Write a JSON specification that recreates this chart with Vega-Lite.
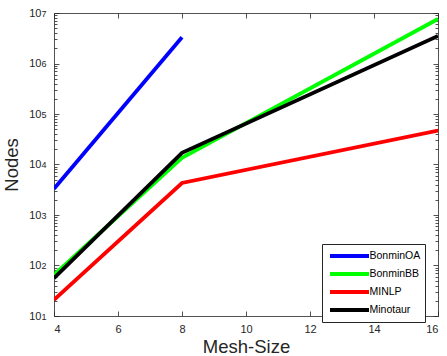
{
  "$schema": "https://vega.github.io/schema/vega-lite/v6.json",
  "autosize": "none",
  "padding": {"left": 54, "top": 13, "right": 9, "bottom": 40},
  "width": 384,
  "height": 303,
  "background": "white",
  "data": {"values": [
    {"solver": "BonminOA", "mesh": 4, "nodes": 3300},
    {"solver": "BonminOA", "mesh": 8, "nodes": 3300000},
    {"solver": "BonminBB", "mesh": 4, "nodes": 65},
    {"solver": "BonminBB", "mesh": 8, "nodes": 13500},
    {"solver": "BonminBB", "mesh": 16, "nodes": 7600000},
    {"solver": "MINLP", "mesh": 4, "nodes": 21},
    {"solver": "MINLP", "mesh": 8, "nodes": 4300},
    {"solver": "MINLP", "mesh": 16, "nodes": 47000},
    {"solver": "Minotaur", "mesh": 4, "nodes": 56},
    {"solver": "Minotaur", "mesh": 8, "nodes": 17000},
    {"solver": "Minotaur", "mesh": 16, "nodes": 3500000}
  ]},
  "layer": [
    {
      "mark": {"type": "line", "strokeWidth": 3.8, "clip": true},
      "encoding": {
        "x": {"field": "mesh", "type": "quantitative",
          "scale": {"domain": [4, 16], "nice": false, "zero": false},
          "axis": {"orient": "bottom", "values": [4, 6, 8, 10, 12, 14, 16], "title": "Mesh-Size",
            "tickSize": -5, "labelPadding": 12, "titleFontSize": 18.5, "titlePadding": 3, "titleFontWeight": "normal"}},
        "y": {"field": "nodes", "type": "quantitative",
          "scale": {"type": "log", "domain": [10, 10000000], "nice": false},
          "axis": {"orient": "left", "values": [10, 100, 1000, 10000, 100000, 1000000, 10000000], "title": "Nodes",
            "tickSize": -5, "labelPadding": 18, "labelDy": 2, "labelExpr": "'10'",
            "titleFontSize": 18.5, "titlePadding": 7, "titleFontWeight": "normal"}},
        "color": {"field": "solver", "type": "nominal",
          "scale": {"domain": ["BonminOA", "BonminBB", "MINLP", "Minotaur"], "range": ["#0000ff", "#00ff00", "#ff0000", "#000000"]},
          "legend": {"title": null, "orient": "none", "legendX": 268, "legendY": 231,
            "symbolType": "M-3.25,0L3.25,0", "symbolSize": 144, "symbolStrokeWidth": 4, "symbolOffset": 15.5,
            "strokeColor": "#262626", "fillColor": "white", "padding": 4, "cornerRadius": 0,
            "labelFontSize": 10.5, "labelOffset": 12, "rowPadding": 2, "labelColor": "#000000"}}
      }
    },
    {
      "mark": {"type": "point", "opacity": 0, "size": 0},
      "encoding": {
        "x": {"field": "mesh", "type": "quantitative", "axis": null},
        "y": {"field": "nodes", "type": "quantitative",
          "axis": {"orient": "left", "values": [10, 100, 1000, 10000, 100000, 1000000, 10000000], "title": null,
            "domain": false, "ticks": false, "labelPadding": 8, "labelDy": -4, "labelFontSize": 9,
            "labelExpr": "['0','1','2','3','4','5','6','7'][round(log(datum.value)/LN10)]"}}
      }
    },
    {
      "mark": {"type": "point", "opacity": 0, "size": 0},
      "encoding": {
        "x": {"field": "mesh", "type": "quantitative",
          "axis": {"orient": "top", "values": [4, 6, 8, 10, 12, 14, 16], "labels": false, "title": null, "tickSize": -5}},
        "y": {"field": "nodes", "type": "quantitative",
          "axis": {"orient": "right", "values": [10, 100, 1000, 10000, 100000, 1000000, 10000000], "labels": false, "title": null, "tickSize": -5}}
      }
    },
    {
      "mark": {"type": "point", "opacity": 0, "size": 0},
      "encoding": {
        "x": {"field": "mesh", "type": "quantitative", "axis": null},
        "y": {"field": "nodes", "type": "quantitative",
          "axis": {"orient": "left", "domain": false, "labels": false, "title": null, "tickSize": -3,
            "values": [20,30,40,50,60,70,80,90,200,300,400,500,600,700,800,900,2000,3000,4000,5000,6000,7000,8000,9000,20000,30000,40000,50000,60000,70000,80000,90000,200000,300000,400000,500000,600000,700000,800000,900000,2000000,3000000,4000000,5000000,6000000,7000000,8000000,9000000]}}
      }
    },
    {
      "mark": {"type": "point", "opacity": 0, "size": 0},
      "encoding": {
        "x": {"field": "mesh", "type": "quantitative", "axis": null},
        "y": {"field": "nodes", "type": "quantitative",
          "axis": {"orient": "right", "domain": false, "labels": false, "title": null, "tickSize": -3,
            "values": [20,30,40,50,60,70,80,90,200,300,400,500,600,700,800,900,2000,3000,4000,5000,6000,7000,8000,9000,20000,30000,40000,50000,60000,70000,80000,90000,200000,300000,400000,500000,600000,700000,800000,900000,2000000,3000000,4000000,5000000,6000000,7000000,8000000,9000000]}}
      }
    }
  ],
  "resolve": {"axis": {"x": "independent", "y": "independent"}},
  "config": {
    "font": "Liberation Sans",
    "view": {"stroke": null},
    "axis": {"grid": false, "domainColor": "#262626", "tickColor": "#262626", "labelColor": "#262626", "titleColor": "#262626",
      "domainWidth": 0.8, "tickWidth": 0.8, "labelFontSize": 11, "labelFont": "Liberation Sans", "titleFont": "Liberation Sans"},
    "legend": {"labelFont": "Liberation Sans"}
  }
}
